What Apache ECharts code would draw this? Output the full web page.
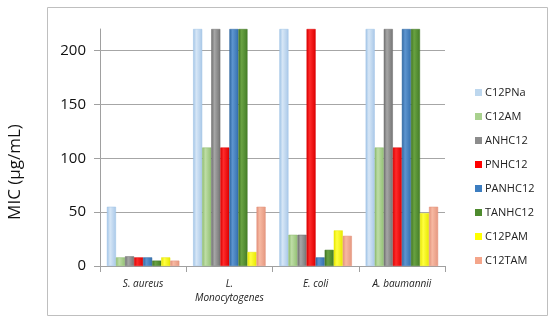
<!DOCTYPE html>
<html>
<head>
<meta charset="utf-8">
<script src="https://cdn.jsdelivr.net/npm/echarts@6/dist/echarts.min.js"></script>
<style>html,body{margin:0;padding:0;background:#fff}#c{width:550px;height:320px}</style>
</head>
<body>
<div id="c"></div>
<script>
var categories = ['S. aureus', 'L.\nMonocytogenes', 'E. coli', 'A. baumannii'];
var seriesNames = ['C12PNa', 'C12AM', 'ANHC12', 'PNHC12', 'PANHC12', 'TANHC12', 'C12PAM', 'C12TAM'];
var C12PNa  = [55, 220, 220, 220];
var C12AM   = [8, 110, 29, 110];
var ANHC12  = [9, 220, 29, 220];
var PNHC12  = [8, 110, 220, 110];
var PANHC12 = [8, 220, 8, 220];
var TANHC12 = [5, 220, 15, 220];
var C12PAM  = [8, 13, 33, 49];
var C12TAM  = [5, 55, 28, 55];
var gridValues = [50, 100, 150, 200];
var yMax = 220;
var yTitle = 'MIC (\u00b5g/mL)';

var values = [C12PNa, C12AM, ANHC12, PNHC12, PANHC12, TANHC12, C12PAM, C12TAM];
var colors = [
  ['#9FC3E6', '#D6E6F6', '#A9C8E8'],
  ['#8DBB6E', '#BEDDA6', '#93C074'],
  ['#6E6E6E', '#A6A6A6', '#747474'],
  ['#D90000', '#FF2A2A', '#DD0000'],
  ['#2E66A0', '#5D95D0', '#3470AE'],
  ['#3F7422', '#69A242', '#447D27'],
  ['#E6E600', '#FFFF40', '#E8E800'],
  ['#E2907A', '#F7B9A2', '#E5977F']
];
var legendColors = ['#BDD7EE', '#A9D18E', '#8C8C8C', '#FF0000', '#3C7DC0', '#4E8B2E', '#FFFF00', '#F4A58A'];

function grad(c) {
  return new echarts.graphic.LinearGradient(0, 0, 1, 0, [
    {offset: 0, color: c[0]},
    {offset: 0.35, color: c[1]},
    {offset: 1, color: c[2]}
  ]);
}

var series = seriesNames.map(function (n, i) {
  var s = {
    name: n,
    type: 'bar',
    data: values[i],
    barGap: '0%',
    barCategoryGap: '16%',
    z: 3,
    itemStyle: {color: grad(colors[i]), borderColor: colors[i][0], borderWidth: 0.5},
    emphasis: {disabled: true}
  };
  if (i === 0) {
    s.markLine = {
      silent: true,
      symbol: 'none',
      z: 1,
      label: {show: false},
      lineStyle: {type: 'solid', color: '#A6A6A6', width: 1.2},
      data: gridValues.map(function (v) { return {yAxis: v}; })
    };
  }
  return s;
});

var chart = echarts.init(document.getElementById('c'), null, {renderer: 'canvas'});
chart.setOption({
  animation: false,
  color: legendColors,
  textStyle: {fontFamily: '"Open Sans", sans-serif'},
  graphic: [{
    type: 'rect', left: 45, top: 5, z: -10,
    shape: {width: 500, height: 308},
    style: {fill: 'none', stroke: '#BFBFBF', lineWidth: 1}
  }, {
    type: 'text',
    x: 15, y: 172, rotation: Math.PI / 2,
    style: {text: yTitle, fontSize: 17, fill: '#111', fontFamily: '"Open Sans", sans-serif', align: 'center', verticalAlign: 'middle'}
  }],
  legend: {
    orient: 'vertical',
    left: 470, top: 82,
    itemWidth: 7, itemHeight: 7, itemGap: 13,
    icon: 'rect',
    data: seriesNames.map(function (n, i) { return {name: n, itemStyle: {color: legendColors[i], borderWidth: 0}}; }),
    textStyle: {fontSize: 11, color: '#222', fontFamily: '"Open Sans", sans-serif', padding: [0, 0, 0, -2]}
  },
  grid: {left: 100, right: 105, top: 29, bottom: 54, containLabel: false},
  xAxis: {
    type: 'category',
    data: categories,
    axisLine: {lineStyle: {color: '#A0A0A0', width: 1}},
    axisTick: {show: true, length: 6, lineStyle: {color: '#A0A0A0'}},
    axisLabel: {interval: 0, fontSize: 10, fontStyle: 'italic', color: '#222', margin: 11, lineHeight: 14, fontFamily: '"Open Sans", sans-serif'}
  },
  yAxis: {
    type: 'value',
    min: 0, max: yMax, interval: 50,
    axisLine: {show: true, lineStyle: {color: '#A0A0A0'}},
    axisTick: {show: true, length: 6, lineStyle: {color: '#A0A0A0'}},
    axisLabel: {fontSize: 15, color: '#111', margin: 14, showMaxLabel: false, fontFamily: '"Open Sans", sans-serif'},
    splitLine: {show: false}
  },
  series: series
});
</script>
</body>
</html>
